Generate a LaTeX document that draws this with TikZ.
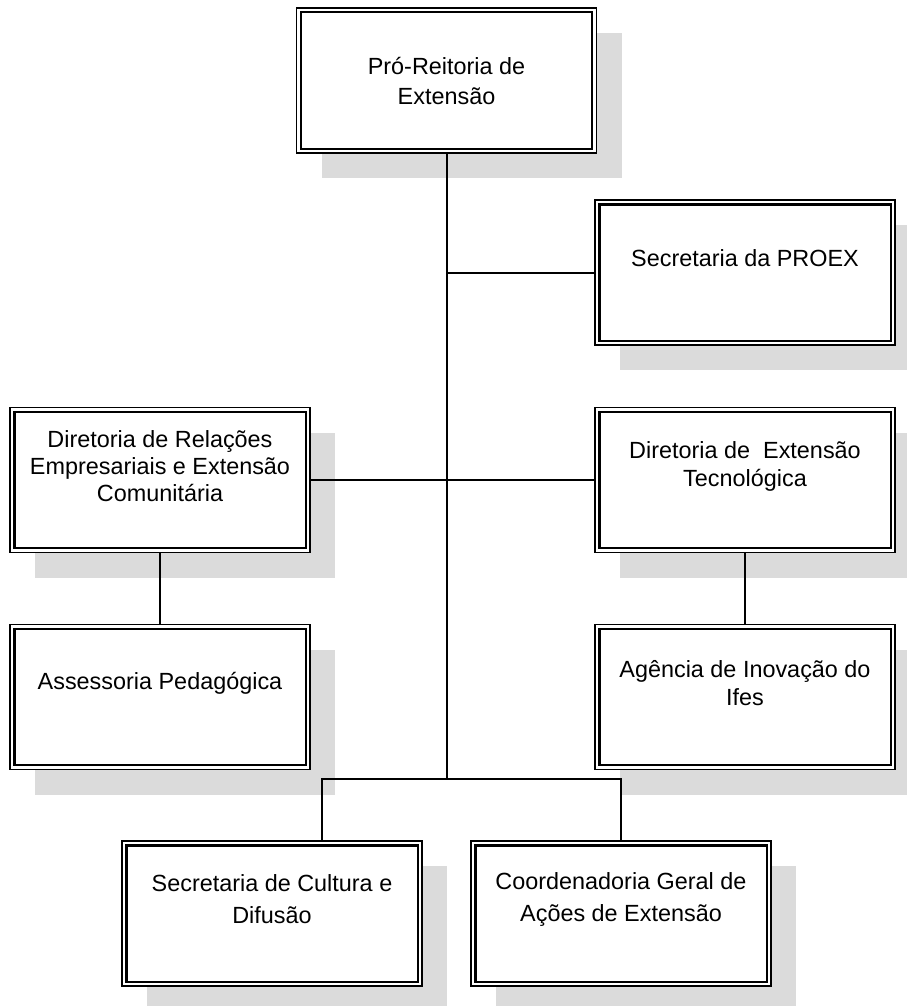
\documentclass[tikz,border=0pt]{standalone}
\usepackage{fontspec}
\setmainfont{Liberation Sans}
\usetikzlibrary{shadows}

\begin{document}
\begin{tikzpicture}[
    x=0.5pt, y=-0.5pt,
    every node/.style={font=\fontsize{11.7}{14}\selectfont},
    unit/.style={rectangle, draw, line width=0.6pt, fill=white,
                 minimum width=150pt, minimum height=72.5pt, inner sep=0pt,
                 drop shadow={shadow xshift=12.5pt, shadow yshift=-12.5pt,
                              fill=black!14, opacity=1}},
    txt/.style={align=center, inner sep=1pt, yshift=7pt},
    link/.style={line width=1pt},
  ]
  \useasboundingbox (0,0) rectangle (906,1006);
  % boxes
  \node[unit] (pro) at (446.5, 80.5) {};
  \node[unit] (sec) at (745.0, 272.5) {};
  \node[unit] (rel) at (160.0, 480.0) {};
  \node[unit] (tec) at (745.0, 480.0) {};
  \node[unit] (ase) at (160.0, 697.0) {};
  \node[unit] (agi) at (745.0, 697.0) {};
  \node[unit] (cul) at (272.0, 913.5) {};
  \node[unit] (coo) at (621.0, 913.5) {};
  \foreach \b in {pro,sec,rel,tec,ase,agi,cul,coo}
    \draw[line width=1.1pt] ([shift={(2.5pt,-2.5pt)}]\b.north west)
      rectangle ([shift={(-2.5pt,2.5pt)}]\b.south east);
  % texts
  \node[txt, yshift=-7pt, font=\fontsize{11.7}{15}\selectfont] (t-pro) at (pro) {Pró-Reitoria de\\Extensão};
  \node[txt] (t-sec) at (sec) {Secretaria da PROEX};
  \node[txt, font=\fontsize{11.7}{13.5}\selectfont] (t-rel) at (rel) {Diretoria de Relações\\Empresariais e Extensão\\Comunitária};
  \node[txt] (t-tec) at (tec) {Diretoria de \ Extensão\\Tecnológica};
  \node[txt] (t-ase) at (ase) {Assessoria Pedagógica};
  \node[txt] (t-agi) at (agi) {Agência de Inovação do\\Ifes};
  \node[txt, font=\fontsize{11.7}{16}\selectfont] (t-cul) at (cul) {Secretaria de Cultura e\\Difusão};
  \node[txt, font=\fontsize{11.7}{16}\selectfont] (t-coo) at (coo) {Coordenadoria Geral de\\Ações de Extensão};
  % connectors
  \coordinate (split) at (446.5, 779);
  \coordinate (cul-in) at ([xshift=25pt]cul.north);
  \draw[link] (pro.south) -- (split);
  \draw[link] (sec.west) -- (sec.west -| pro.south);
  \draw[link] (rel.east) -- (tec.west);
  \draw[link] (rel.south) -- (ase.north);
  \draw[link] (tec.south) -- (agi.north);
  \draw[link] (cul-in) |- (split) -| (coo.north);
\end{tikzpicture}
\end{document}
